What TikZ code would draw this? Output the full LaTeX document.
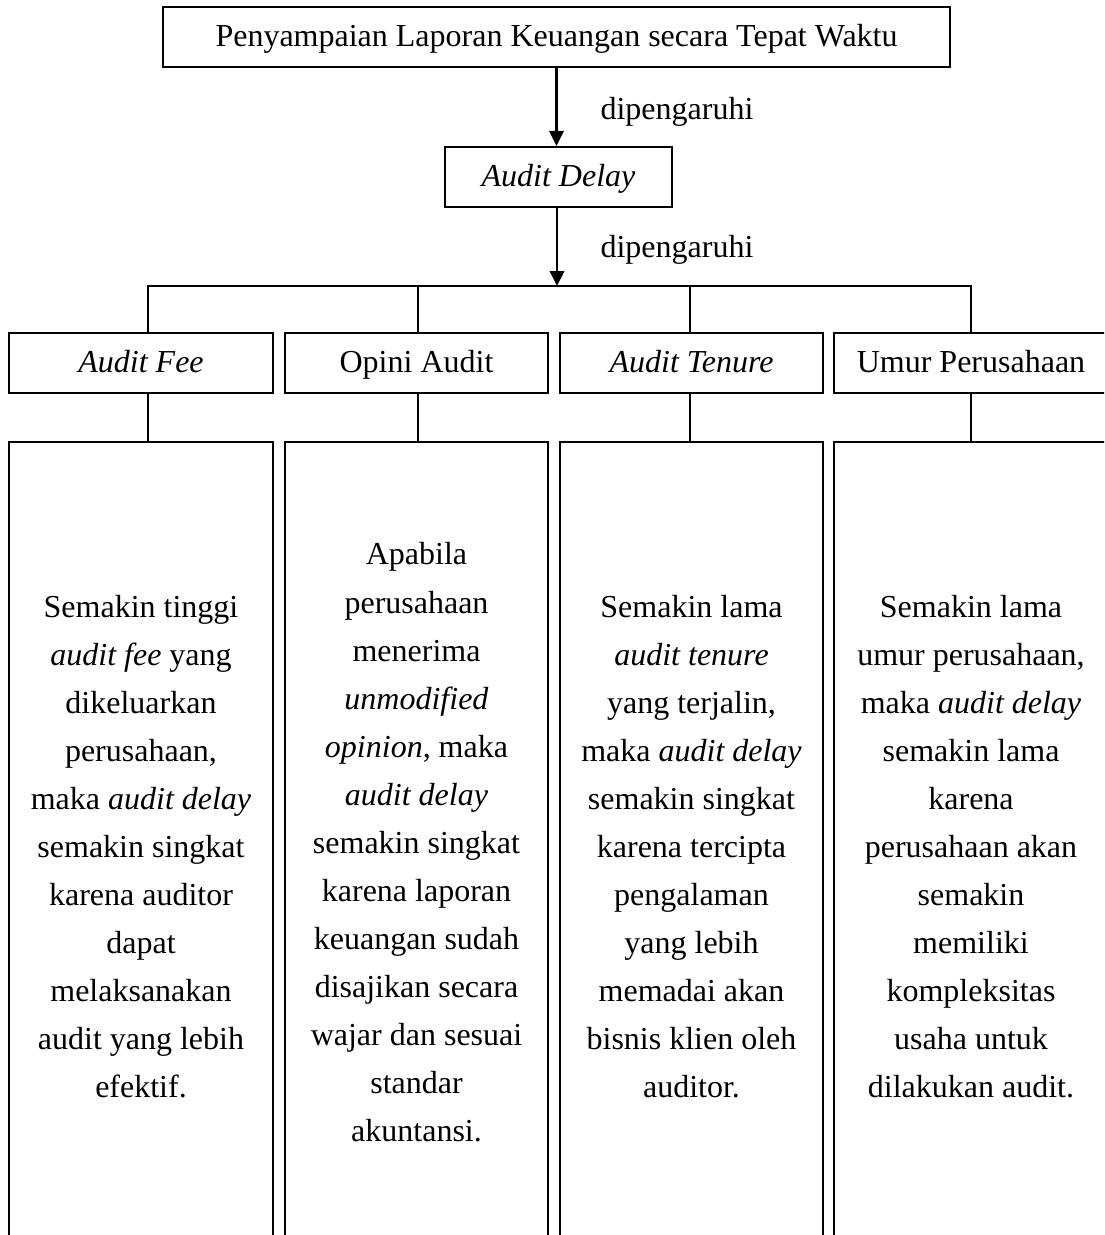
\documentclass[tikz,border=0pt]{standalone}
\usepackage{fontspec}
\setmainfont{Liberation Serif}
\usetikzlibrary{arrows.meta}
\tikzset{
  rbox/.style 2 args={draw, line width=0.8pt, minimum width=#1*0.375pt, minimum height=#2*0.375pt, inner sep=0pt, text height=10pt, text depth=2.5pt, font=\fontsize{12}{18}\selectfont},
  conn/.style={line width=0.8pt},
  arr/.style={conn, -{Triangle[length=5.6pt,width=5.4pt]}},
  lab/.style={anchor=base west, inner sep=0pt, font=\fontsize{12}{18}\selectfont},
  desc/.style={anchor=base, inner sep=0pt},
}
\newcommand\desctext[1]{\parbox[t]{96pt}{\centering\fontsize{12}{18}\selectfont #1}}
\begin{document}
\begin{tikzpicture}[x=0.375pt,y=-0.375pt]
\useasboundingbox (0,0) rectangle (1104,1235);
\clip (0,0) rectangle (1104,1235);

\node[rbox={787}{60}] (top) at (556.5,37) {Penyampaian Laporan Keuangan secara Tepat Waktu};
\node[rbox={227}{60}] (delay) at (558.5,177) {\textit{Audit Delay}};
\draw[arr] (top.south) -- (top.south |- delay.north);
\node[lab] (lab1) at (600,120) {dipengaruhi};

\coordinate (hub) at (557,286);
\coordinate (b1) at (148,286);
\coordinate (b2) at (418,286);
\coordinate (b3) at (690,286);
\coordinate (b4) at (971,286);
\draw[arr] (delay.south -| hub) -- (hub);
\node[lab] (lab2) at (600,258) {dipengaruhi};

\node[rbox={264}{60}] (fee) at (141,363) {\textit{Audit Fee}};
\node[rbox={263}{60}] (opini) at (416.5,363) {Opini Audit};
\node[rbox={263}{60}] (tenure) at (691.5,363) {\textit{Audit Tenure}};
\node[rbox={274}{60}] (umur) at (971,363) {Umur Perusahaan};

\node[rbox={264}{830}] (dfee) at (141,857) {};
\node[rbox={263}{830}] (dopini) at (416.5,857) {};
\node[rbox={263}{830}] (dtenure) at (691.5,857) {};
\node[rbox={274}{830}] (dumur) at (971,857) {};

\draw[conn] (b1 |- fee.north) -- (b1) -- (b4) -- (b4 |- umur.north);
\draw[conn] (b2) -- (b2 |- opini.north);
\draw[conn] (b3) -- (b3 |- tenure.north);

\draw[conn] (b1 |- fee.south) -- (b1 |- dfee.north);
\draw[conn] (b2 |- opini.south) -- (b2 |- dopini.north);
\draw[conn] (b3 |- tenure.south) -- (b3 |- dtenure.north);
\draw[conn] (b4 |- umur.south) -- (b4 |- dumur.north);

\node[desc] (tfee) at (141,617) {\desctext{Semakin tinggi\\ \textit{audit fee} yang\\ dikeluarkan\\ perusahaan,\\ maka \textit{audit delay}\\ semakin singkat\\ karena auditor\\ dapat\\ melaksanakan\\ audit yang lebih\\ efektif.}};
\node[desc] (topini) at (416.5,565) {\desctext{Apabila\\ perusahaan\\ menerima\\ \textit{unmodified}\\ \textit{opinion}, maka\\ \textit{audit delay}\\ semakin singkat\\ karena laporan\\ keuangan sudah\\ disajikan secara\\ wajar dan sesuai\\ standar\\ akuntansi.}};
\node[desc] (ttenure) at (691.5,617) {\desctext{Semakin lama\\ \textit{audit tenure}\\ yang terjalin,\\ maka \textit{audit delay}\\ semakin singkat\\ karena tercipta\\ pengalaman\\ yang lebih\\ memadai akan\\ bisnis klien oleh\\ auditor.}};
\node[desc] (tumur) at (971,617) {\desctext{Semakin lama\\ umur perusahaan,\\ maka \textit{audit delay}\\ semakin lama\\ karena\\ perusahaan akan\\ semakin\\ memiliki\\ kompleksitas\\ usaha untuk\\ dilakukan audit.}};
\end{tikzpicture}
\end{document}
